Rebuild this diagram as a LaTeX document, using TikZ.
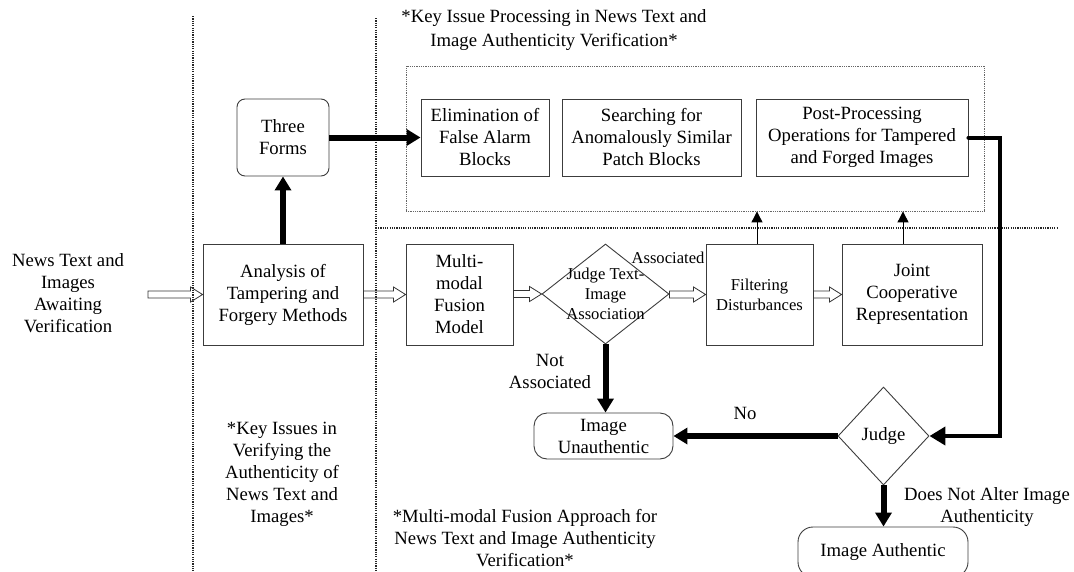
\documentclass[tikz,border=0pt]{standalone}
\usepackage{fontspec}
\setmainfont{Liberation Serif}
\usetikzlibrary{arrows.meta,shapes.geometric,calc}
\definecolor{boxgray}{RGB}{60,60,60}
\newcommand\hollowarr[2]{\draw[hollowstyle] let \p1=(#1), \p2=(#2) in
  (\x1,\y2+3.5pt) -- (\x2-12pt,\y2+3.5pt) -- (\x2-12pt,\y2+7.5pt) -- (\x2,\y2)
  -- (\x2-12pt,\y2-7.5pt) -- (\x2-12pt,\y2-3.5pt) -- (\x1,\y2-3.5pt) -- cycle;}
\begin{document}
\begin{tikzpicture}[x=1pt,y=-1pt,
  mainf/.style={font=\fontsize{18.7pt}{22pt}\selectfont},
  smallf/.style={font=\fontsize{16.6pt}{20pt}\selectfont},
  box/.style={draw=boxgray, line width=0.9pt, inner sep=0pt, align=center, mainf},
  sepline/.style={draw=black!85, line width=1.3pt, dash pattern=on 1.2pt off 1.1pt},
  grpbox/.style={draw=black!60, line width=0.8pt, dash pattern=on 0.9pt off 0.9pt, inner sep=0pt},
  bigarrow/.style={line width=6pt, -{Triangle[length=14pt,width=16pt]}},
  medarrow/.style={line width=4pt, line cap=round, -{Triangle[length=16pt,width=18pt]}},
  thinarrow/.style={line width=0.9pt, -{Triangle[length=11pt,width=11pt]}},
  hollowstyle/.style={draw=black!80, line width=0.8pt},
  lbl/.style={align=center, inner sep=0pt, mainf}
]
\useasboundingbox (0,0) rectangle (1074,571);
\clip (0,0) rectangle (1074,571);

% separators
\coordinate (s1t) at (193,16); \coordinate (s1b) at (193,571);
\coordinate (s2t) at (376,18); \coordinate (s2b) at (376,571);
\coordinate (hl) at (378,228); \coordinate (hr) at (1057,228);
\draw[sepline] (s1t) -- (s1b);
\draw[sepline] (s2t) -- (s2b);
\draw[sepline] (hl) -- (hr);

% group box
\node[grpbox, minimum width=578pt, minimum height=145pt] (grp) at (695,138.5) {};

% texts
\node[lbl] (title) at (554,30) {*Key Issue Processing in News Text and\\[2pt]Image Authenticity Verification*};
\node[lbl] (news) at (68,293) {News Text and\\Images\\Awaiting\\Verification};
\node[lbl] (kicap) at (282,474.5) {*Key Issues in\\Verifying the\\Authenticity of\\News Text and\\Images*};
\node[lbl] (mmcap) at (525,538) {*Multi-modal Fusion Approach for\\News Text and Image Authenticity\\Verification*};

% boxes
\node[box, minimum width=92pt, minimum height=77pt, rounded corners=8pt] (three) at (283,137.5) {Three\\Forms};
\node[box, minimum width=128pt, minimum height=77pt] (elim) at (485,137.5) {Elimination of\\False Alarm\\Blocks};
\node[box, minimum width=179pt, minimum height=77pt] (search) at (651.5,137.5) {Searching for\\Anomalously Similar\\Patch Blocks};
\node[box, minimum width=212pt, minimum height=77pt] (post) at (862,137.5) {Post-Processing\\Operations for Tampered\\and Forged Images};

\node[box, minimum width=160pt, minimum height=101pt] (anal) at (283,294.5) {Analysis of\\Tampering and\\Forgery Methods};
\node[box, minimum width=107pt, minimum height=101pt] (multi) at (459.5,294.5) {Multi-\\modal\\Fusion\\Model};
\node[diamond, draw=boxgray, line width=0.9pt, inner sep=0pt, minimum width=127pt, minimum height=100pt] (jd) at (605.5,294) {};
\node[lbl, smallf] (jdt) at (605.5,294) {Judge Text-\\Image\\Association};
\node[box, smallf, minimum width=107pt, minimum height=101pt] (filt) at (759.5,294.5) {Filtering\\Disturbances};
\node[box, minimum width=140pt, minimum height=101pt] (joint) at (912,294.5) {Joint\\Cooperative\\Representation};

\node[box, minimum width=139pt, minimum height=46pt, rounded corners=13pt] (unauth) at (603.5,436) {Image\\Unauthentic};
\node[diamond, draw=boxgray, line width=0.9pt, inner sep=0pt, minimum width=91pt, minimum height=98pt, mainf] (judge) at (883.5,436) {};
\node[lbl] (judget) at (883.5,436) {Judge};
\node[box, minimum width=170pt, minimum height=50pt, rounded corners=15pt] (auth) at (883,552) {Image Authentic};

% labels
\node[lbl, smallf] (assoc) at (668,258) {Associated};
\node[lbl] (notassoc) at (550,371.5) {Not\\Associated};
\node[lbl] (no) at (745,413) {No};
\node[lbl] (dna) at (987,507.5) {Does Not Alter Image\\Authenticity};

% hollow arrows
\coordinate (newsout) at (148,296);
\hollowarr{newsout}{anal.west}
\hollowarr{anal.east}{multi.west}
\hollowarr{multi.east}{jd.west}
\hollowarr{jd.east}{filt.west}
\hollowarr{filt.east}{joint.west}

% thick arrows
\draw[bigarrow] (anal.north) -- (three.south);
\draw[bigarrow] (three.east) -- (elim.west);
\draw[bigarrow] (jd.south) -- (jd.south |- unauth.north);
\draw[bigarrow] (judge.west) -- (unauth.east);
\draw[bigarrow] (judge.south) -- (judge.south |- auth.north);
\draw[medarrow] (post.east) -- ++(32,0) |- (judge.east);

% thin arrows
\draw[thinarrow] ([xshift=-2.5pt]filt.north) -- ([xshift=-2.5pt]filt.north |- grp.south);
\draw[thinarrow] ([xshift=-9pt]joint.north) -- ([xshift=-9pt]joint.north |- grp.south);
\end{tikzpicture}
\end{document}
